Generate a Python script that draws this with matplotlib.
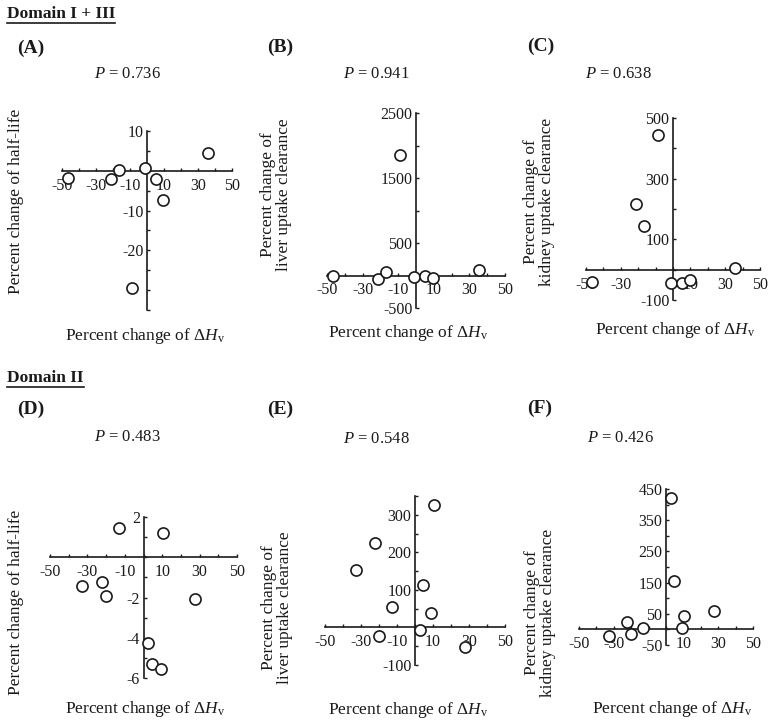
import matplotlib
matplotlib.use('Agg')
import matplotlib.pyplot as plt
from matplotlib.lines import Line2D

plt.rcParams['font.family'] = ['Liberation Serif', 'DejaVu Serif']
plt.rcParams['mathtext.fontset'] = 'custom'
plt.rcParams['mathtext.rm'] = 'Liberation Serif'
plt.rcParams['mathtext.it'] = 'Liberation Serif:italic'
plt.rcParams['mathtext.bf'] = 'Liberation Serif:bold'

# ---------------- data ----------------
# Domain I + III mutants: percent change of dHv
dom13_dHv = [-46.6, -21.3, -16.6, -8.9, -0.9, 5.0, 9.5, 35.6]
A_halflife = [-1.8, -2.1, 0.3, -29.5, 0.7, -2.1, -7.4, 4.4]
B_liver = [-12, -47, 59, 1850, -24, -12, -35, 83]
C_kidney = [-42, 217, 145, 443, -44, -44, -33, 6]

# Domain II mutants
dom2_dHv = [-32.7, -22.4, -20.2, -13.0, 2.6, 4.7, 9.1, 10.4, 27.6]
D_halflife = [-1.45, -1.22, -1.92, 1.45, -4.28, -5.3, -5.55, 1.22, -2.08]
E_liver = [152, 225, -22, 54, -7, 112, 39, 325, -52]
F_kidney = [-21, 23, -14, 3, 420, 154, 4, 43, 59]

p_values = ['0.736', '0.941', '0.638', '0.483', '0.548', '0.426']
panel_letters = ['(A)', '(B)', '(C)', '(D)', '(E)', '(F)']
ylabels = ['Percent change of half-life',
           'Percent change of\nliver uptake clearance',
           'Percent change of\nkidney uptake clearance',
           'Percent change of half-life',
           'Percent change of\nliver uptake clearance',
           'Percent change of\nkidney uptake clearance']
xlabel = r'Percent change of $\Delta H_{\rm v}$'

x_ticks = list(range(-50, 51, 10))
xl_std = ['-50', '', '-30', '', '-10', '', '10', '', '30', '', '50']
xl_no10 = ['-50', '', '-30', '', '', '', '10', '', '30', '', '50']

# ---------------- figure ----------------
W, H = 769, 720
fig = plt.figure(figsize=(W / 100, H / 100), dpi=100)
fig.patch.set_facecolor('white')
INK = '#1a1a1a'


def px_axes(left, right, top, bottom):
    return fig.add_axes([left / W, 1 - bottom / H, (right - left) / W, (bottom - top) / H])


def panel(rect, x, y, ylim, yticks, ylabs, xlabs):
    ax = px_axes(*rect)
    ax.set_xlim(-50, 50)
    ax.set_ylim(*ylim)
    ax.patch.set_alpha(0)
    for s in ['top', 'right']:
        ax.spines[s].set_visible(False)
    for s in ['left', 'bottom']:
        ax.spines[s].set_position(('data', 0))
        ax.spines[s].set_linewidth(1.2)
        ax.spines[s].set_color(INK)
    ax.set_xticks(x_ticks)
    ax.set_xticklabels(xlabs)
    ax.set_yticks(yticks)
    ax.set_yticklabels(ylabs)
    ax.tick_params(direction='in', length=2.5, width=1.0, color=INK,
                   labelsize=11.5, labelcolor=INK)
    ax.tick_params(axis='x', pad=5)
    ax.tick_params(axis='y', pad=2.5)
    ax.plot(x, y, 'o', mfc='white', mec=INK, ms=8, mew=1.2,
            zorder=5, clip_on=False)
    return ax


# A
yA = list(range(-35, 11, 5))
panel((62, 232, 131, 310), dom13_dHv, A_halflife, (-35, 10), yA,
      [str(v) if v in (10, -10, -20) else '' for v in yA], xl_std)
# B
yB = list(range(-500, 2501, 500))
panel((327, 505, 113, 308), dom13_dHv, B_liver, (-500, 2500), yB,
      [str(v) if v in (-500, 500, 1500, 2500) else '' for v in yB], xl_std)
# C
yC = list(range(-100, 501, 100))
panel((586, 760, 118, 300), dom13_dHv, C_kidney, (-100, 500), yC,
      [str(v) if v in (-100, 100, 300, 500) else '' for v in yC], xl_no10)
# D
yD = list(range(-6, 3, 1))
panel((50, 237, 517, 678), dom2_dHv, D_halflife, (-6, 2), yD,
      [str(v) if v in (-6, -4, -2, 2) else '' for v in yD], xl_std)
# E
yE = list(range(-100, 351, 50))
panel((325, 505, 496, 665), dom2_dHv, E_liver, (-100, 350), yE,
      [str(v) if v in (-100, 100, 200, 300) else '' for v in yE], xl_std)
# F
yF = list(range(-50, 451, 50))
panel((579, 753, 489, 645), dom2_dHv, F_kidney, (-50, 450), yF,
      [str(v) if v in (-50, 50, 150, 250, 350, 450) else '' for v in yF], xl_no10)


def ftext(x, y, s, **kw):
    return fig.text(x / W, 1 - y / H, s, color=INK, **kw)


# headers
hdr1 = ftext(7, 14, 'Domain I + III', fontsize=12.5, fontweight='bold', ha='left', va='center')
hdr2 = ftext(7, 378, 'Domain II', fontsize=12.5, fontweight='bold', ha='left', va='center')

letter_pos = [(17, 48), (267, 47), (527, 46), (17, 409), (267, 409), (527, 408)]
p_pos = [(127, 74), (376, 74), (618, 74), (127, 437), (376, 439), (620, 438)]
ylab_pos = [(16, 201), (276, 195), (539, 202), (16, 602), (277, 608), (540, 613)]
xlab_pos = [(145, 336), (408, 333), (675, 330), (145, 709), (408, 710), (672, 709)]

for i in range(6):
    ftext(*letter_pos[i], panel_letters[i], fontsize=14, fontweight='bold', ha='left', va='center')
    ftext(*p_pos[i], r'$P$ = ' + p_values[i], fontsize=12, ha='center', va='center')
    ftext(*ylab_pos[i], ylabels[i], fontsize=12.5, rotation=90, ha='center', va='center',
          multialignment='center', linespacing=0.95)
    ftext(*xlab_pos[i], xlabel, fontsize=12.5, ha='center', va='center')

# underline headers
fig.canvas.draw()
r = fig.canvas.get_renderer()
for t in (hdr1, hdr2):
    bb = t.get_window_extent(r)
    yb = bb.y0 - 1.0
    fig.add_artist(Line2D([bb.x0 / W, bb.x1 / W], [yb / H, yb / H],
                          transform=fig.transFigure, color=INK, lw=1.2))

fig.savefig('out.png', dpi=100, facecolor='white')
